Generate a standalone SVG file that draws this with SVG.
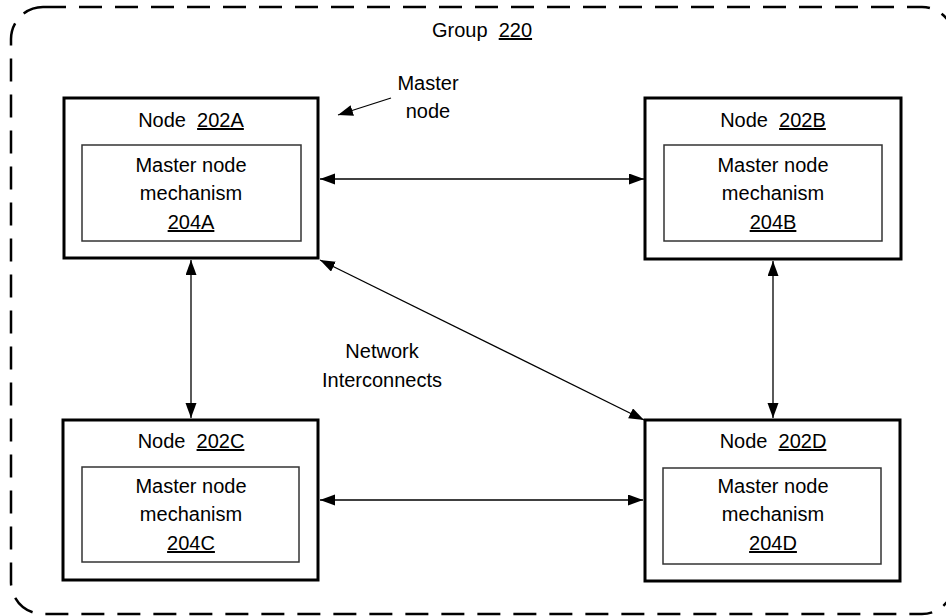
<svg xmlns="http://www.w3.org/2000/svg" width="946" height="616" viewBox="0 0 946 616">
<style>
text{font-family:"Liberation Sans",Arial,sans-serif;font-size:20px;fill:#000;text-anchor:middle}
.u{text-decoration:underline}
.outer{fill:#fff;stroke:#000;stroke-width:3}
.inner{fill:#fff;stroke:#333;stroke-width:1.5}
.conn{stroke:#000;stroke-width:1.3;fill:none}
.group{fill:none;stroke:#000;stroke-width:2.5;stroke-dasharray:23 13}
</style>
<defs>
<marker id="ah" markerUnits="userSpaceOnUse" markerWidth="16" markerHeight="12" refX="15" refY="5.5" orient="auto-start-reverse">
<path d="M0,0 L15,5.5 L0,11 z" fill="#000"/>
</marker>
</defs>
<g id="group220">
<rect class="group" x="11" y="7" width="943" height="607" rx="32" ry="32"/>
<text x="432" y="37" style="text-anchor:start" xml:space="preserve">Group  <tspan class="u">220</tspan></text>
</g>
<g id="connectors">
<line class="conn" x1="320" y1="179" x2="644" y2="179" marker-start="url(#ah)" marker-end="url(#ah)"/>
<line class="conn" x1="191" y1="260" x2="191" y2="418" marker-start="url(#ah)" marker-end="url(#ah)"/>
<line class="conn" x1="773" y1="261" x2="773" y2="418" marker-start="url(#ah)" marker-end="url(#ah)"/>
<line class="conn" x1="320" y1="260" x2="644" y2="420" marker-start="url(#ah)" marker-end="url(#ah)"/>
<line class="conn" x1="320" y1="500" x2="643" y2="500" marker-start="url(#ah)" marker-end="url(#ah)"/>
<line class="conn" x1="391" y1="98" x2="338" y2="115" marker-end="url(#ah)"/>
</g>
<g id="label-master">
<text x="428" y="90">Master</text>
<text x="428" y="118">node</text>
</g>
<g id="label-network">
<text x="382" y="358">Network</text>
<text x="382" y="387">Interconnects</text>
</g>
<g id="node202A">
<rect class="outer" x="64" y="98" width="254" height="160"/>
<text x="191" y="127" xml:space="preserve">Node  <tspan class="u">202A</tspan></text>
<rect class="inner" x="82" y="145" width="219" height="96"/>
<text x="191" y="172">Master node</text>
<text x="191" y="200">mechanism</text>
<text x="191" y="229" class="u">204A</text>
</g>
<g id="node202B">
<rect class="outer" x="645" y="98" width="256" height="161"/>
<text x="773" y="127" xml:space="preserve">Node  <tspan class="u">202B</tspan></text>
<rect class="inner" x="664" y="145" width="218" height="96"/>
<text x="773" y="172">Master node</text>
<text x="773" y="200">mechanism</text>
<text x="773" y="229" class="u">204B</text>
</g>
<g id="node202C">
<rect class="outer" x="63" y="420" width="255" height="160"/>
<text x="191" y="448" xml:space="preserve">Node  <tspan class="u">202C</tspan></text>
<rect class="inner" x="82" y="467" width="217" height="95"/>
<text x="191" y="493">Master node</text>
<text x="191" y="521">mechanism</text>
<text x="191" y="550" class="u">204C</text>
</g>
<g id="node202D">
<rect class="outer" x="645" y="420" width="255" height="161"/>
<text x="773" y="448" xml:space="preserve">Node  <tspan class="u">202D</tspan></text>
<rect class="inner" x="663" y="468" width="218" height="96"/>
<text x="773" y="493">Master node</text>
<text x="773" y="521">mechanism</text>
<text x="773" y="550" class="u">204D</text>
</g>
</svg>
